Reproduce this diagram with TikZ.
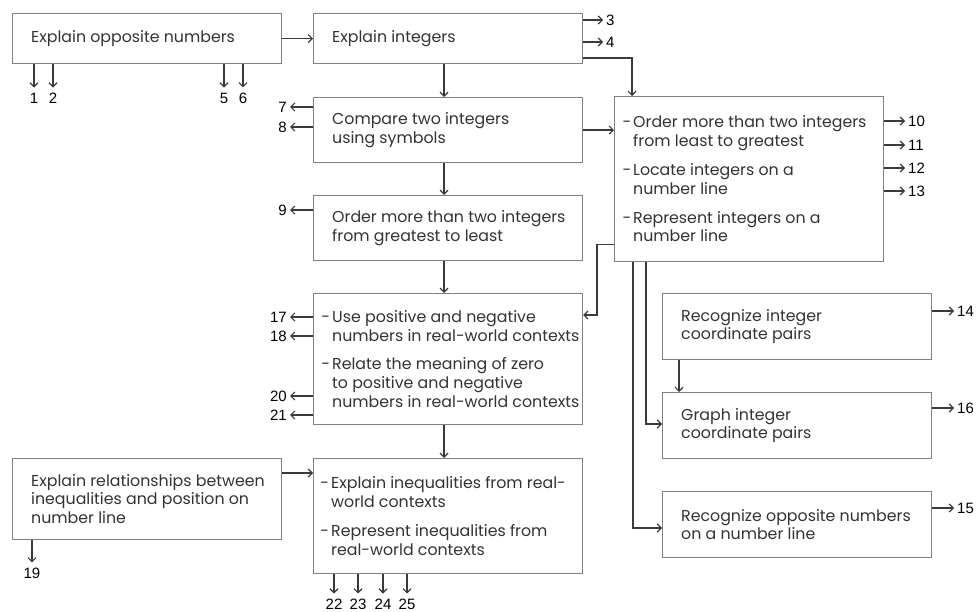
\documentclass[tikz,border=0pt]{standalone}
\usepackage{fontspec}
\setmainfont{Poppins}
\newfontfamily\numfont{Liberation Sans}
\usetikzlibrary{arrows.meta}
\definecolor{boxgray}{HTML}{808080}
\definecolor{linegray}{HTML}{3A3A3A}
\definecolor{txtgray}{HTML}{333333}
\newcommand{\dashitem}{\llap{-\hspace{2pt}}}
\begin{document}
\begin{tikzpicture}[x=1pt,y=-1pt,
  box/.style={draw=boxgray, line width=1.1pt, fill=white, inner sep=0pt, anchor=north west, minimum width=269pt},
  txt/.style={anchor=west, inner sep=0pt, align=left, text=txtgray, font=\fontsize{15.8}{18.8}\selectfont},
  con/.style={draw=linegray, line width=1.2pt, -{Straight Barb[length=4pt,width=8pt]}},
  num/.style={font=\numfont\fontsize{15}{15}\selectfont, text=black, inner sep=0pt},
  numr/.style={num, anchor=west, inner xsep=3pt},
  numl/.style={num, anchor=east, inner xsep=3pt},
  numb/.style={num, inner ysep=5pt}
]
\useasboundingbox (0,0) rectangle (976,612);
% boxes
\node[box, minimum height=50pt]  (b1)    at (12,13)  {};
\node[box, minimum height=50pt]  (b2)    at (313,13) {};
\node[box, minimum height=65pt]  (bcmp)  at (313,97) {};
\node[box, minimum height=65pt]  (bgrt)  at (313,195) {};
\node[box, minimum height=131pt] (buse)  at (313,293) {};
\node[box, minimum height=115pt] (bineq) at (313,458) {};
\node[box, minimum height=81pt]  (brel)  at (12,458) {};
\node[box, minimum height=165pt] (bord)  at (614,96) {};
\node[box, minimum height=66pt]  (brec)  at (662,293) {};
\node[box, minimum height=66pt]  (bgraph) at (662,392) {};
\node[box, minimum height=66pt]  (bopp)  at (662,491) {};
% texts
\node[txt] (t1) at ([xshift=19pt]b1.west) {Explain opposite numbers};
\node[txt] (t2) at ([xshift=19pt]b2.west) {Explain integers};
\node[txt] (tcmp) at ([xshift=19pt]bcmp.west) {Compare two integers\\using symbols};
\node[txt] (tgrt) at ([xshift=19pt]bgrt.west) {Order more than two integers\\from greatest to least};
\node[txt] (tuse) at ([xshift=19pt]buse.west) {\dashitem Use positive and negative\\numbers in real-world contexts\\[10pt]\dashitem Relate the meaning of zero\\to positive and negative\\numbers in real-world contexts};
\node[txt] (tineq) at ([xshift=18pt]bineq.west) {\dashitem Explain inequalities from real-\\world contexts\\[10pt]\dashitem Represent inequalities from\\real-world contexts};
\node[txt] (trel) at ([xshift=19pt]brel.west) {Explain relationships between\\inequalities and position on\\number line};
\node[txt] (tord) at ([xshift=19pt]bord.west) {\dashitem Order more than two integers\\from least to greatest\\[10pt]\dashitem Locate integers on a\\number line\\[10pt]\dashitem Represent integers on a\\number line};
\node[txt] (trec) at ([xshift=19pt]brec.west) {Recognize integer\\coordinate pairs};
\node[txt] (tgraph) at ([xshift=19pt]bgraph.west) {Graph integer\\coordinate pairs};
\node[txt] (topp) at ([xshift=19pt]bopp.west) {Recognize opposite numbers\\on a number line};
% number labels
\node[numb] (n1) at (34,98) {1};
\node[numb] (n2) at (53,98) {2};
\node[numb] (n5) at (224,98) {5};
\node[numb] (n6) at (243,98) {6};
\node[numr] (n3) at (603,20) {3};
\node[numr] (n4) at (603,42) {4};
\node[numl] (n7) at (290,107) {7};
\node[numl] (n8) at (290,127) {8};
\node[numl] (n9) at (290,210) {9};
\node[numr] (n10) at (905,121) {10};
\node[numr] (n11) at (905,145) {11};
\node[numr] (n12) at (905,168) {12};
\node[numr] (n13) at (905,191) {13};
\node[numr] (n14) at (954,311) {14};
\node[numr] (n16) at (954,408) {16};
\node[numr] (n15) at (954,508) {15};
\node[numl] (n17) at (290,317) {17};
\node[numl] (n18) at (290,336) {18};
\node[numl] (n20) at (290,396) {20};
\node[numl] (n21) at (290,415) {21};
\node[numb] (n19) at (32,573) {19};
\node[numb] (n22) at (334,604) {22};
\node[numb] (n23) at (358,604) {23};
\node[numb] (n24) at (383,604) {24};
\node[numb] (n25) at (407,604) {25};
% connectors between boxes
\draw[con] (b1.east) -- (b2.west);
\draw[con] ([xshift=-4pt]b2.south) -- ([xshift=-4pt]bcmp.north);
\draw[con] ([yshift=6pt]b2.south east) -| ([xshift=18pt]bord.north west);
\draw[con] (bcmp.east) -- (bcmp.east -| bord.west);
\draw[con] ([xshift=-4pt]bcmp.south) -- ([xshift=-4pt]bgrt.north);
\draw[con] ([xshift=-4pt]bgrt.south) -- ([xshift=-4pt]buse.north);
\draw[con] ([xshift=-4pt]buse.south) -- ([xshift=-4pt]bineq.north);
\draw[con] ([yshift=18pt]bord.south west) -- ++(-17,0) |- ([yshift=-22pt]buse.north east);
\coordinate (c1) at ([yshift=-15pt]brel.north east);
\draw[con] (c1) -- (c1 -| bineq.west);
\draw[con] ([xshift=19pt]bord.south west) |- ([yshift=-37pt]bopp.north west);
\draw[con] ([xshift=32pt]bord.south west) |- ([yshift=-32pt]bgraph.north west);
\draw[con] ([xshift=17pt]brec.south west) -- ([xshift=17pt]bgraph.north west);
% connectors to numbers
\foreach \n in {n1,n2,n5,n6} \draw[con] (b1.south -| \n) -- (\n.north);
\foreach \n in {n3,n4} \draw[con] (b2.east |- \n) -- (\n.west);
\foreach \n in {n7,n8} \draw[con] (bcmp.west |- \n) -- (\n.east);
\draw[con] (bgrt.west |- n9) -- (n9.east);
\foreach \n in {n10,n11,n12,n13} \draw[con] (bord.east |- \n) -- (\n.west);
\draw[con] (brec.east |- n14) -- (n14.west);
\draw[con] (bgraph.east |- n16) -- (n16.west);
\draw[con] (bopp.east |- n15) -- (n15.west);
\foreach \n in {n17,n18,n20,n21} \draw[con] (buse.west |- \n) -- (\n.east);
\draw[con] (brel.south -| n19) -- (n19.north);
\foreach \n in {n22,n23,n24,n25} \draw[con] (bineq.south -| \n) -- (\n.north);
\end{tikzpicture}
\end{document}
